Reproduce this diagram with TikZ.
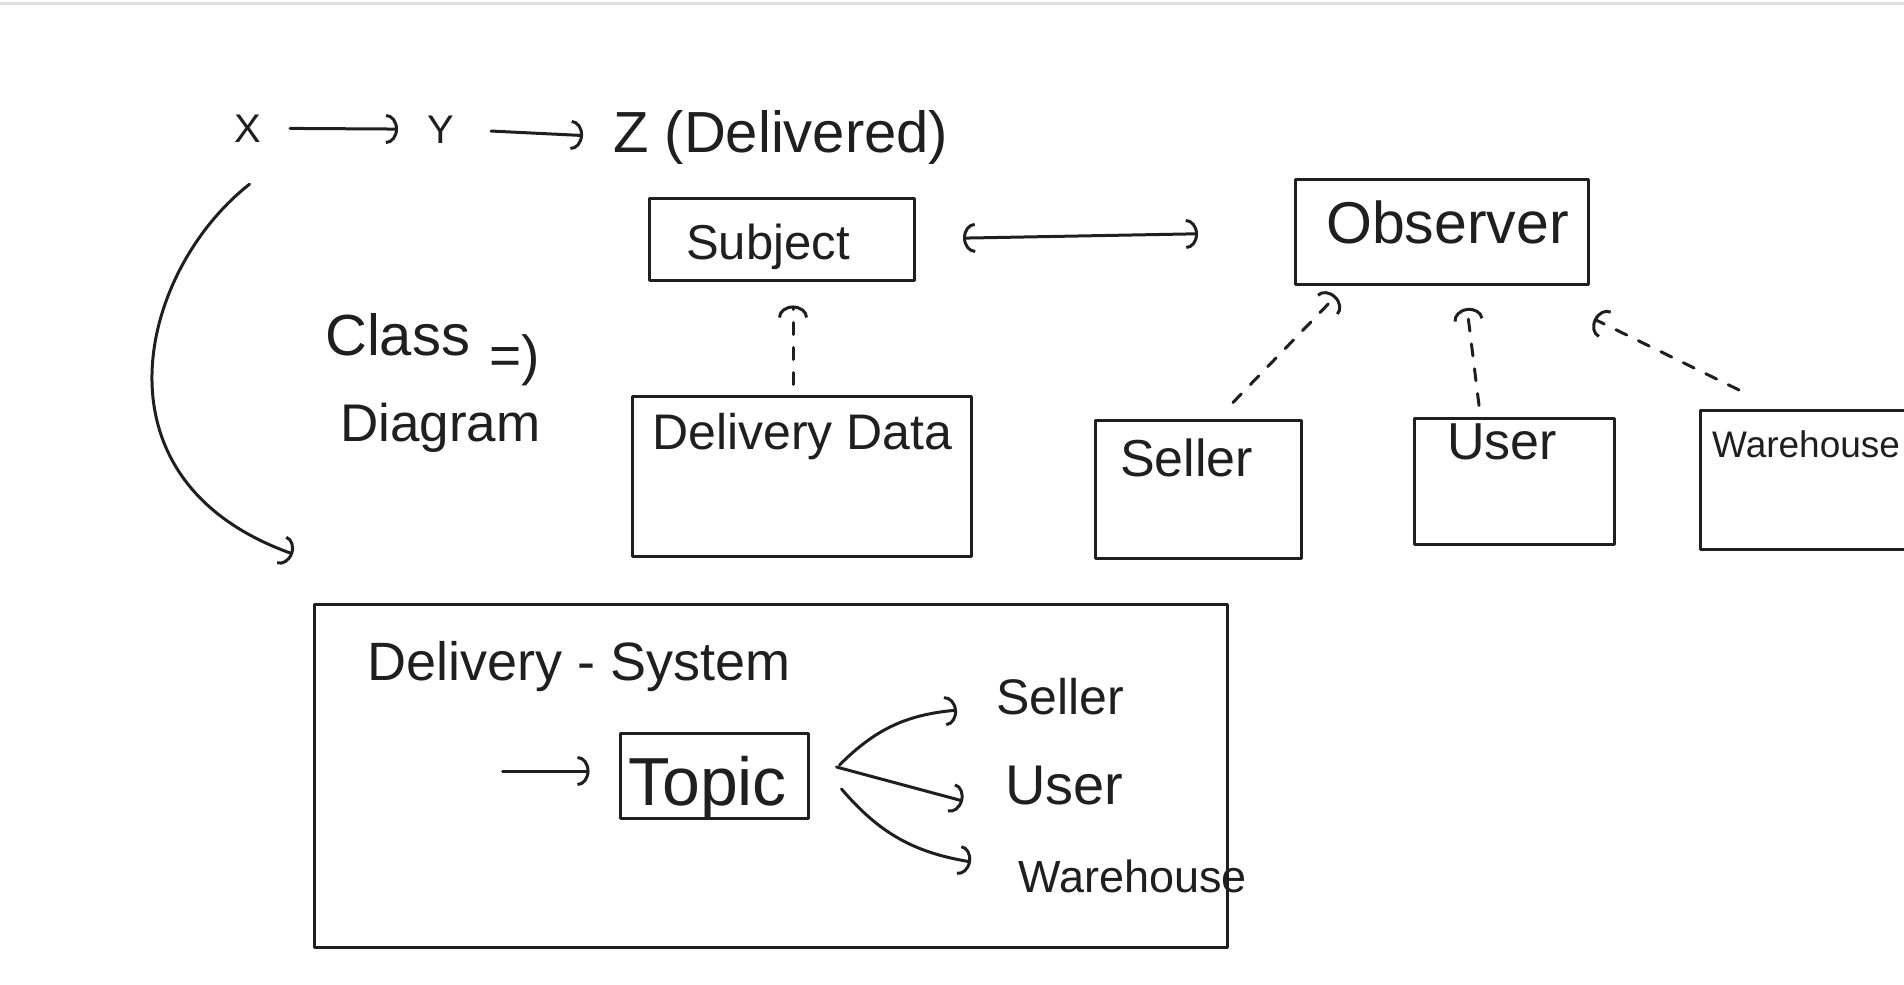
\documentclass[tikz,border=0pt]{standalone}
\usepackage{fontspec}
\newfontfamily\hand{Liberation Sans}
\usetikzlibrary{arrows.meta,calc}
\newcommand{\hs}[1]{\hand\fontsize{#1}{#1}\selectfont}
\begin{document}
\begin{tikzpicture}[x=1pt,y=-1pt,
  ink/.style={line width=3pt, draw=black!88, line cap=round, line join=round},
  box/.style={ink, rectangle, inner sep=0pt},
  txt/.style={inner sep=0pt, anchor=base west, text=black!88},
  arr/.style={ink, -{Arc Barb[length=12pt,width=30pt,line width=3pt]}},
  darr/.style={arr, dash pattern=on 12pt off 13pt},
]
\useasboundingbox (0,0) rectangle (1904,985);
\clip (0,0) rectangle (1904,985);
\draw[gray!25, line width=3pt] (0,3) -- (1904,3);

% top sequence
\node[txt, font=\hs{40}] (x) at (234,142) {X};
\node[txt, font=\hs{40}] (y) at (427,143) {Y};
\node[txt, font=\hs{58}] (z) at (613,152) {Z (Delivered)};
\draw[arr, shorten <=29pt, shorten >=29pt] (x.east) -- (y.west);
\draw[arr, shorten <=37pt, shorten >=30pt] (y.east) -- (z.west);

% class diagram label
\node[txt, font=\hs{58}] (cls) at (325,355) {Class};
\node[txt, font=\hs{55}] (imp) at (489,374) {=)};
\node[txt, font=\hs{53}] (dia) at (340,441) {Diagram};

% boxes
\node[box, minimum width=265pt, minimum height=82pt] (subj) at (782,239) {};
\node[txt, font=\hs{49}] (subjt) at (686,259) {Subject};
\node[box, minimum width=293pt, minimum height=105pt] (obs) at (1442,232) {};
\node[txt, font=\hs{59}] (obst) at (1326,243) {Observer};
\node[box, minimum width=339pt, minimum height=160pt] (dd) at (802,476) {};
\node[txt, font=\hs{50}] (ddt) at (652,449) {Delivery Data};
\node[box, minimum width=206pt, minimum height=138pt] (seller) at (1198,489) {};
\node[txt, font=\hs{52}] (sellert) at (1120,476) {Seller};
\node[box, minimum width=200pt, minimum height=126pt] (user) at (1514,481) {};
\node[txt, font=\hs{52}] (usert) at (1447,459) {User};
\node[box, minimum width=230pt, minimum height=139pt] (wh) at (1815,480) {};
\node[txt, font=\hs{37}] (wht) at (1712,457) {Warehouse};

% connectors among boxes
\draw[ink, {Arc Barb[length=12pt,width=30pt,line width=3pt]}-{Arc Barb[length=12pt,width=30pt,line width=3pt]},
  shorten <=47pt, shorten >=96pt] (subj.east) -- (obs.west);
\draw[darr] ($(dd.north)+(-9,-10)$) -- ($(subj.south)+(11,24)$);
\draw[darr] ($(seller.north)+(35,-16)$) -- ($(obs.south west)+(42,10)$);
\draw[darr] ($(user.north)+(-35,-11)$) -- ($(obs.south)+(25,22)$);
\draw[darr] ($(wh.north)+(-76,-19)$) -- ($(obs.south east)+(4,33)$);

% delivery system
\node[box, minimum width=913pt, minimum height=343pt] (big) at (771,776) {};
\coordinate (cd) at ($(big.north west)+(-20,-49)$);
\draw[arr] ($(x.south)+(2,42)$) .. controls (140,270) and (85,480) .. (cd);
\node[txt, font=\hs{54}] (dst) at (367,680) {Delivery - System};
\node[box, minimum width=188pt, minimum height=85pt] (topic) at (714,776) {};
\node[txt, font=\hs{68}] (topict) at (628,805) {Topic};
\coordinate (tin) at ($(topic.west)+(-116,-5)$);
\draw[arr, shorten >=29pt] (tin) -- (tin -| topic.west);
\node[txt, font=\hs{50}] (s2) at (996,714) {Seller};
\node[txt, font=\hs{56}] (u2) at (1005,804) {User};
\node[txt, font=\hs{45}] (w2) at (1018,892) {Warehouse};
\draw[arr] ($(topic.east)+(30,-11)$) to[bend left=20] ($(s2.west)+(-39,14)$);
\draw[arr] ($(topic.east)+(27,-9)$) -- ($(u2.west)+(-42,16)$);
\draw[arr] ($(topic.east)+(32,13)$) to[bend right=20] ($(w2.west)+(-47,-14)$);
\end{tikzpicture}
\end{document}
